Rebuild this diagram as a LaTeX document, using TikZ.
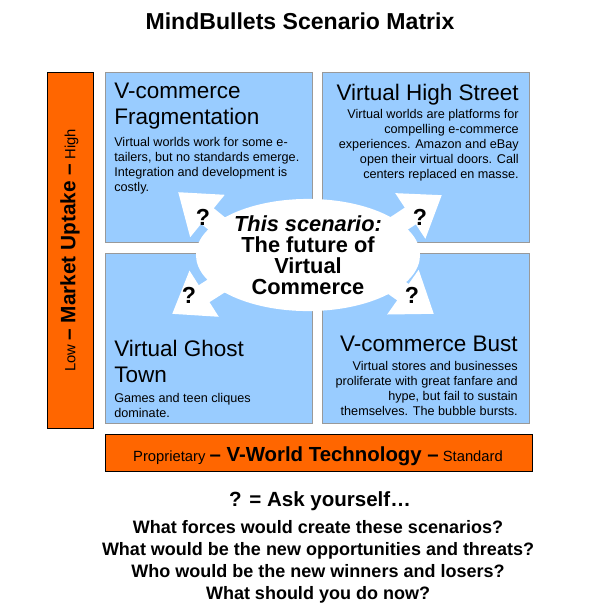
\documentclass[tikz,border=0pt]{standalone}
\usepackage{fontspec}
\setmainfont{Liberation Sans}
\usetikzlibrary{arrows.meta,positioning,shapes.geometric}
\definecolor{quadblue}{HTML}{99CCFF}
\definecolor{quadedge}{HTML}{999999}
\definecolor{axisorange}{HTML}{FF6600}

\begin{document}
\begin{tikzpicture}[
  x=0.025cm,y=-0.025cm,
  quad/.style={draw=quadedge,fill=quadblue,line width=0.7pt,anchor=north west,inner sep=0pt,minimum width=5.175cm,minimum height=4.25cm},
  axisbar/.style={draw=black,fill=axisorange,line width=0.7pt,inner sep=0pt},
  qtitle/.style={inner sep=0pt,font=\fontsize{16}{18.4}\selectfont},
  qbody/.style={inner sep=0pt,font=\fontsize{9}{10.7}\selectfont},
  pointer/.style={white,line width=5mm,-{Triangle[width=13mm,length=9.5mm]}},
  ask/.style={font=\bfseries\fontsize{16.5}{18}\selectfont,inner sep=0pt}
]
\useasboundingbox (0,0) rectangle (600,606);
\node[font=\bfseries\fontsize{16.4}{18}\selectfont] (title) at (300,21) {MindBullets Scenario Matrix};

% quadrants
\node[quad] (tl) at (105,72) {};
\node[quad] (tr) at (322,72) {};
\node[quad] (bl) at (105,253) {};
\node[quad] (br) at (322,253) {};

\node[qtitle,anchor=north west,align=left] (tlhead) at (114,83) {V-commerce\\Fragmentation};
\node[qbody,anchor=north west,align=left] (tlbody) at (114,137) {Virtual worlds work for some e-\\tailers, but no standards emerge.\\Integration and development is\\costly.};
\node[qtitle,anchor=north east] (trhead) at (519,84) {Virtual High Street};
\node[qbody,anchor=north east,align=right] (trbody) at (519,109) {Virtual worlds are platforms for\\compelling e-commerce\\experiences. Amazon and eBay\\open their virtual doors. Call\\centers replaced en masse.};
\node[qtitle,anchor=north west,align=left] (blhead) at (114,340) {Virtual Ghost\\Town};
\node[qbody,anchor=north west,align=left] (blbody) at (114,393) {Games and teen cliques\\dominate.};
\node[qtitle,anchor=north east] (brhead) at (518,336) {V-commerce Bust};
\node[qbody,anchor=north east,align=right] (brbody) at (518,361) {Virtual stores and businesses\\proliferate with great fanfare and\\hype, but fail to sustain\\themselves. The bubble bursts.};

% centre and pointers
\coordinate (mid) at (308,255);
\coordinate (tlstart) at (232,236);
\coordinate (trstart) at (380,236);
\coordinate (blstart) at (232,276);
\coordinate (brstart) at (380,276);
\coordinate (tltip) at (178,192);
\coordinate (trtip) at (442,195);
\coordinate (bltip) at (172,314);
\coordinate (brtip) at (434,314);
\draw[pointer] (tlstart) -- (tltip);
\draw[pointer] (trstart) -- (trtip);
\draw[pointer] (blstart) -- (bltip);
\draw[pointer] (brstart) -- (brtip);
\node[ellipse,fill=white,minimum width=5.6cm,minimum height=2.55cm,inner sep=0pt,align=center,
  font=\bfseries\fontsize{15.5}{15}\selectfont] (scen) at (mid) {\textit{This scenario:}\\The future of\\Virtual\\Commerce};
\node[ask] (q1) at (203,217) {?};
\node[ask] (q2) at (420,217) {?};
\node[ask] (q3) at (189,295) {?};
\node[ask] (q4) at (412,295) {?};

% axes
\node[axisbar,minimum width=1.15cm,minimum height=8.875cm] (uptake) at (70,250.5) {};
\node[rotate=90,inner sep=0pt,font=\fontsize{10.5}{12}\selectfont] (uptaketext) at (uptake.center)
  {Low {\bfseries\fontsize{14.8}{16}\selectfont -- Market Uptake --} High};
\node[axisbar,minimum width=10.65cm,minimum height=0.925cm] (tech) at (319,452.5) {};
\node[inner sep=0pt,font=\fontsize{10.5}{12}\selectfont] (techtext) at (318,456)
  {Proprietary {\bfseries\fontsize{14.5}{16}\selectfont -- V-World Technology --} Standard};

% questions
\node[font=\bfseries\fontsize{14.6}{16}\selectfont] (askhead) at (320,501) {? = Ask yourself…};
\node[font=\bfseries\fontsize{12.8}{15.8}\selectfont,align=center,anchor=north] (asklist) at (318,515)
  {What forces would create these scenarios?\\What would be the new opportunities and threats?\\Who would be the new winners and losers?\\What should you do now?};
\end{tikzpicture}
\end{document}
